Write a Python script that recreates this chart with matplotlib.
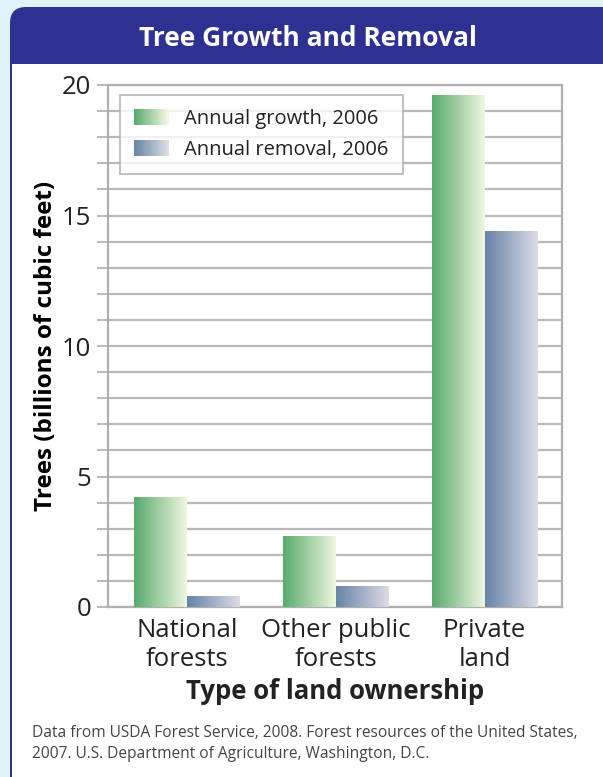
import numpy as np
import matplotlib
matplotlib.use('Agg')
import matplotlib.pyplot as plt
from matplotlib.patches import FancyBboxPatch, Rectangle
from matplotlib.transforms import IdentityTransform
from matplotlib.colors import LinearSegmentedColormap
from matplotlib.legend_handler import HandlerBase

plt.rcParams['font.family'] = ['Open Sans', 'DejaVu Sans']

# data (billions of cubic feet)
categories = ['National\nforests', 'Other public\nforests', 'Private\nland']
growth = [4.2, 2.7, 19.6]
removal = [0.4, 0.8, 14.4]
series_names = ['Annual growth, 2006', 'Annual removal, 2006']

green = LinearSegmentedColormap.from_list('g', ['#58aa6c', '#f0f7e0'])
blue = LinearSegmentedColormap.from_list('b', ['#6783a6', '#dcdce6'])
navy = '#2e3192'
W, H = 603, 777

fig = plt.figure(figsize=(W / 100, H / 100), dpi=100, facecolor='#e0f3fa')

def px(x, y):
    return x, H - y

# panel frame and title band (pixel coords)
fig.add_artist(FancyBboxPatch(px(10, 800), 660, 793, boxstyle='round,pad=0,rounding_size=16',
                              transform=IdentityTransform(), facecolor=navy, edgecolor='none', zorder=0))
fig.add_artist(Rectangle(px(12, 760), 640, 696, transform=IdentityTransform(),
                         facecolor='white', edgecolor='none', zorder=0))
fig.add_artist(FancyBboxPatch(px(12, 798), 640, 120, boxstyle='round,pad=0,rounding_size=14',
                              transform=IdentityTransform(), facecolor='white', edgecolor='none', zorder=0))
fig.text(308 / W, 1 - 38 / H, 'Tree Growth and Removal', color='white', fontsize=19,
         fontweight='bold', ha='center', va='center')

ax = fig.add_axes([108 / W, 1 - 607 / H, 454 / W, 522 / H])
x = np.arange(len(categories))
w = 0.355
bars_g = ax.bar(x - w / 2, growth, w, alpha=0)
bars_r = ax.bar(x + w / 2, removal, w, alpha=0)
grad = np.linspace(0, 1, 256).reshape(1, -1)
for bars, cm in [(bars_g, green), (bars_r, blue)]:
    for b in bars:
        ax.imshow(grad, cmap=cm, aspect='auto', zorder=3,
                  extent=[b.get_x(), b.get_x() + b.get_width(), 0, b.get_height()])

ax.set_xlim(-0.53, 2.52)
ax.set_ylim(0, 20)
ax.set_yticks([0, 5, 10, 15, 20])
ax.set_yticks(np.arange(0, 21, 1), minor=True)
ax.yaxis.grid(True, which='both', color='#b8b8b8', lw=1.6, zorder=0)
ax.set_axisbelow(True)
ax.tick_params(axis='y', which='both', length=8, color='#b8b8b8', width=1.4,
               labelsize=18.5, labelcolor='#222222', pad=4)
ax.set_xticks(x)
ax.set_xticklabels(categories, fontsize=18.5, color='#222222', linespacing=1.22)
ax.tick_params(axis='x', length=0, pad=8)
for s in ax.spines.values():
    s.set_color('#b0b0b0')
    s.set_linewidth(1.6)
ax.set_ylabel('Trees (billions of cubic feet)', fontsize=17.5, fontweight='bold', labelpad=3)
ax.set_xlabel('Type of land ownership', fontsize=18.5, fontweight='bold', labelpad=4, color='#222222')


class GradHandler(HandlerBase):
    def __init__(self, cm):
        super().__init__()
        self.cm = cm

    def create_artists(self, legend, orig, xd, yd, width, height, fontsize, trans):
        n = 30
        arts = []
        for i in range(n):
            arts.append(Rectangle((-xd + width * i / n, -yd), width / n + 0.3, height,
                                  facecolor=self.cm(i / (n - 1)), edgecolor='none', transform=trans))
        return arts


h1 = Rectangle((0, 0), 1, 1)
h2 = Rectangle((0, 0), 1, 1)
leg = ax.legend([h1, h2], series_names, handler_map={h1: GradHandler(green), h2: GradHandler(blue)},
                loc='upper left', bbox_to_anchor=(0.026, 0.981), fontsize=14.5, frameon=True,
                fancybox=False, edgecolor='#b0b0b0', handlelength=1.7, handleheight=0.85,
                borderpad=0.7, labelspacing=0.55, handletextpad=0.8, borderaxespad=0)
leg.get_frame().set_linewidth(1.4)
leg.set_zorder(5)
for t in leg.get_texts():
    t.set_color('#222222')

fig.text(32 / W, 1 - 733 / H, 'Data from USDA Forest Service, 2008. Forest resources of the United States,',
         fontsize=11.2, color='#444444', va='center')
fig.text(32 / W, 1 - 754 / H, '2007. U.S. Department of Agriculture, Washington, D.C.',
         fontsize=11.2, color='#444444', va='center')

fig.savefig('out.png', dpi=100, facecolor=fig.get_facecolor())
